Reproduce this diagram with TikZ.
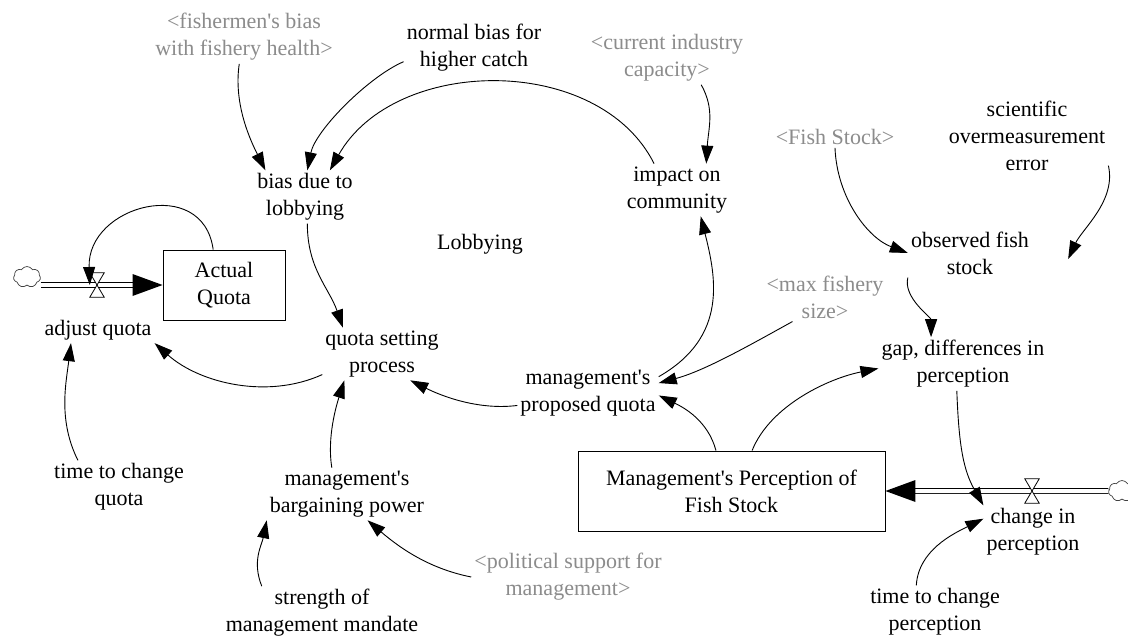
\documentclass[tikz,border=0pt]{standalone}
\usepackage{fontspec}
% a serif family without TeX quote mapping, so apostrophes stay straight
\newfontfamily\vfont{Liberation Serif}
\usetikzlibrary{arrows.meta,shapes.symbols,calc}
\definecolor{ghosttxt}{rgb}{0.55,0.55,0.55}
\begin{document}
\begin{tikzpicture}[x=1pt,y=-1pt,
  every node/.style={font=\vfont\fontsize{22}{27}\selectfont, align=center, inner sep=3pt},
  ghost/.style={text=ghosttxt},
  stock/.style={draw, line width=0.9pt, minimum width=122pt, minimum height=70pt},
  info/.style={line width=0.9pt, -{Triangle[length=18pt,width=12pt]}},
  pipe/.style={double, double distance=4pt, line width=0.9pt},
  valve/.style={minimum width=14pt, minimum height=24pt, inner sep=0pt},
  source/.style={cloud, cloud puffs=7, cloud puff arc=120, aspect=1.3, draw=black!75,
    line width=0.7pt, minimum width=27pt, minimum height=21pt, inner sep=0pt}
]
\fill[white] (0,0) rectangle (1128,640);
\useasboundingbox (0,0) rectangle (1128,640);

% variables
\node[ghost] (fish) at (244,37) {<fishermen's bias\\with fishery health>};
\node (normal) at (474,48) {normal bias for\\higher catch};
\node[ghost] (capacity) at (667,58) {<current industry\\capacity>};
\node (impact) at (677,190) {impact on\\community};
\node[ghost] (fishstock) at (835,137) {<Fish Stock>};
\node (sci) at (1027,136) {scientific\\overmeasurement\\error};
\node (bias) at (305,197) {bias due to\\lobbying};
\node (loop) at (480,244) {Lobbying};
\node (obs) at (970,253) {observed fish\\stock};
\node[stock] (aq) at (224,285) {Actual\\Quota};
\node (adj) at (98,330) {adjust quota};
\node[ghost] (maxf) at (825,297) {<max fishery\\size>};
\node (qsp) at (382,354) {quota setting\\process};
\node (gap) at (963,364) {gap, differences in\\perception};
\node (pq) at (588,393) {management's\\proposed quota};
\node (tcq) at (119,487) {time to change\\quota};
\node (bp) at (347,494) {management's\\bargaining power};
\node[stock, minimum width=307pt, minimum height=80pt] (mps) at (731.5,491)
  {Management's Perception of\\Fish Stock};
\node (cip) at (1033,532) {change in\\perception};
\node (tcp) at (935,612) {time to change\\perception};
\node[ghost] (pol) at (568,577) {<political support for\\management>};
\node (str) at (322,613) {strength of\\management mandate};

% flows
\node[source] (c1) at (27,277) {};
\node[valve] (v1) at (97,285) {};
\draw[pipe] (c1.east |- aq.west) -- ($(aq.west)+(-28,0)$);
\fill (aq.west) -- ++(-30,-11) -- ++(0,22) -- cycle;
\draw[fill=white, line width=0.8pt] (v1.north west) -- (v1.north east)
  -- (v1.south west) -- (v1.south east) -- cycle;

\node[source] (c2) at (1122,491) {};
\node[valve] (v2) at (1032,491) {};
\draw[pipe] (c2.west) -- ($(mps.east)+(28,0)$);
\fill (mps.east) -- ++(30,-11) -- ++(0,22) -- cycle;
\draw[fill=white, line width=0.8pt] (v2.north west) -- (v2.north east)
  -- (v2.south west) -- (v2.south east) -- cycle;

% information links
\draw[info] (fish.-100) .. controls +(-6,40) and +(-15,-30) .. (bias.146);
\draw[info] (normal.191) .. controls +(-35,15) and +(8,-40) .. (bias.85);
\draw[info] (impact.131) .. controls +(-55,-110) and +(65,-115) .. (bias.47);
\draw[info] (capacity.-38) .. controls +(14,25) and +(2,-35) .. (impact.42);
\draw[info] (aq.107) .. controls +(-10,-75) and +(-3,-80) .. (v1.west);
\draw[info] (bias.-85) .. controls +(0,45) and +(-14,-40) .. (qsp.146);
\draw[info] (qsp.199) .. controls +(-55,25) and +(45,40) .. (adj.south east);
\draw[info] (pq.190) .. controls +(-40,5) and +(30,15) .. (qsp.-43);
\draw[info] (pq.13) .. controls +(70,-40) and +(15,60) .. (impact.-48);
\draw[info] (maxf.217) .. controls +(-45,25) and +(45,-12) .. (pq.8);
\draw[info] (mps.111) .. controls +(-8,-30) and +(25,12) .. (pq.-2);
\draw[info] (mps.63) .. controls +(18,-45) and +(-50,10) .. (gap.183);
\draw[info] (fishstock.south) .. controls +(2,50) and +(-40,-15) .. (obs.west);
\draw[info] (sci.-20) .. controls +(8,35) and +(14,-30) .. ($(obs.east)+(36,6)$);
\draw[info] (obs.south west) .. controls +(-5,20) and +(0,-20) .. (gap.140);
\draw[info] (gap.-103) .. controls +(2,55) and +(-20,-35) .. (cip.north west);
\draw[info] (tcp.125) .. controls +(2,-35) and +(-30,15) .. (cip.165);
\draw[info] (pol.west) .. controls +(-40,-8) and +(35,30) .. (bp.-52);
\draw[info] (str.156) .. controls +(-10,-25) and +(-5,25) .. (bp.south west);
\draw[info] (bp.120) .. controls +(-5,-30) and +(-8,25) .. (qsp.215);
\draw[info] (tcq.147) .. controls +(-20,-40) and +(-5,40) .. (adj.206);
\end{tikzpicture}
\end{document}
